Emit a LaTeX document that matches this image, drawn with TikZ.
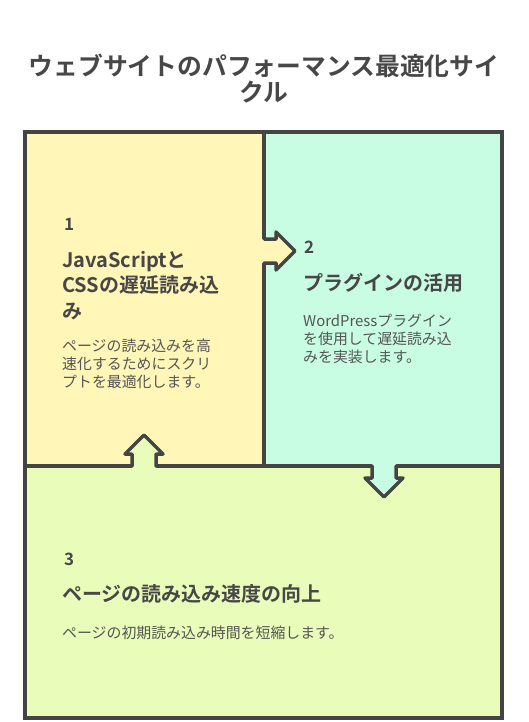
\documentclass[tikz,border=0pt]{standalone}
\usepackage{fontspec}
\setmainfont{Noto Sans CJK JP}[BoldFont={Noto Sans CJK JP Bold}]
\usepackage{tikz}
\usetikzlibrary{positioning}
\definecolor{yellowbg}{HTML}{FFF6B8}
\definecolor{mintbg}{HTML}{C8FCE3}
\definecolor{limebg}{HTML}{E9FCB9}
\definecolor{linegray}{HTML}{444444}
\definecolor{headgray}{HTML}{474747}
\definecolor{bodygray}{HTML}{555555}
\tikzstyle{panel} = [draw=linegray, line width=3.5pt, rectangle, anchor=north west, inner sep=0pt, outer sep=0pt]
\tikzstyle{outline} = [draw=linegray, line width=3.5pt, line join=round, line cap=round]
\tikzstyle{title} = [anchor=base, align=center, inner sep=0pt, text=headgray, font=\bfseries\fontsize{24.8}{26}\selectfont]
\tikzstyle{num} = [anchor=base west, inner sep=0pt, text=headgray, font=\bfseries\fontsize{17}{17}\selectfont]
\tikzstyle{head} = [anchor=base west, align=left, inner sep=0pt, text=headgray, font=\bfseries\fontsize{20}{25.5}\selectfont]
\tikzstyle{body} = [anchor=base west, align=left, inner sep=0pt, text=bodygray, font=\fontsize{14.9}{18}\selectfont]

\begin{document}
\begin{tikzpicture}[x=1pt, y=-1pt]
    \useasboundingbox (0,0) rectangle (528,722);
    \node[title] (title) at (264,102) {ウェブサイトのパフォーマンス最適化サイ\\クル};
    % the three panels
    \node[panel, fill=yellowbg, minimum width=239, minimum height=334] (b1) at (25,132) {};
    \node[panel, fill=mintbg, minimum width=238, minimum height=334] (b2) at (b1.north east) {};
    \node[panel, fill=limebg, minimum width=477, minimum height=252] (b3) at (b1.south west) {};
    \coordinate (r) at ([shift={(0,119)}]b1.north east);
    \coordinate (u) at ([shift={(119,0)}]b1.south west);
    \coordinate (d) at ([shift={(120,0)}]b2.south west);
    % 1 -> 2
    \fill[yellowbg] ([shift={(-3,-12)}]r) -- ++(15,0) -- ++(0,-7) -- ++(19,19) -- ++(-19,19) -- ++(0,-7) -- ++(-15,0) -- cycle;
    \draw[outline] ([shift={(0,-12)}]r) -- ++(12,0) -- ++(0,-7) -- ++(19,19) -- ++(-19,19) -- ++(0,-7) -- ++(-12,0);
    % 2 -> 3
    \fill[mintbg] ([shift={(-12,-3)}]d) -- ++(0,15) -- ++(-7,0) -- ++(19,19) -- ++(19,-19) -- ++(-7,0) -- ++(0,-15) -- cycle;
    \draw[outline] ([shift={(-12,0)}]d) -- ++(0,12) -- ++(-7,0) -- ++(19,19) -- ++(19,-19) -- ++(-7,0) -- ++(0,-12);
    % 3 -> 1
    \fill[limebg] ([shift={(-12,3)}]u) -- ++(0,-15) -- ++(-7,0) -- ++(19,-19) -- ++(19,19) -- ++(-7,0) -- ++(0,15) -- cycle;
    \draw[outline] ([shift={(-12,0)}]u) -- ++(0,-12) -- ++(-7,0) -- ++(19,-19) -- ++(19,19) -- ++(-7,0) -- ++(0,12);
    % texts (base = last line)
    \node[num] (n1) at (64,230) {1};
    \node[head] (h1) at (62,318) {JavaScriptと\\CSSの遅延読み込\\み};
    \node[body] (t1) at (62,387) {ページの読み込みを高\\速化するためにスクリ\\プトを最適化します。};
    \node[num] (n2) at (304,253) {2};
    \node[head] (h2) at (303,290) {プラグインの活用};
    \node[body] (t2) at (303,362) {WordPressプラグイン\\を使用して遅延読み込\\みを実装します。};
    \node[num] (n3) at (64,565) {3};
    \node[head] (h3) at (62,601) {ページの読み込み速度の向上};
    \node[body] (t3) at (62,638) {ページの初期読み込み時間を短縮します。};
\end{tikzpicture}
\end{document}
